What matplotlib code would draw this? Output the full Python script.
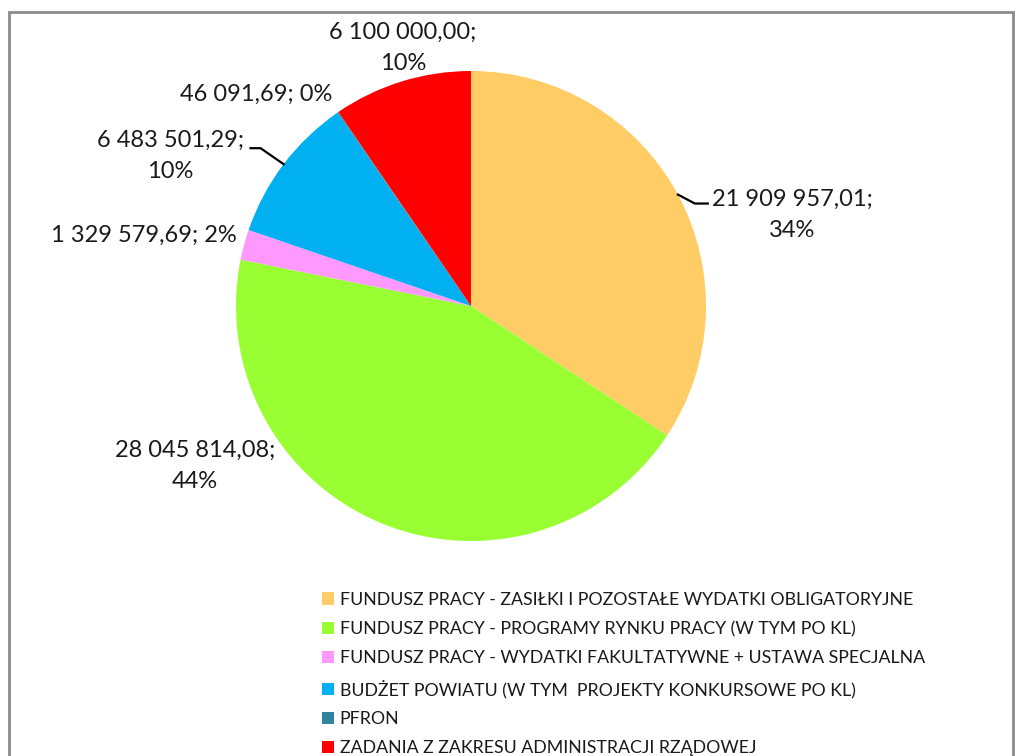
import numpy as np
import matplotlib.pyplot as plt
from matplotlib.patches import Rectangle

plt.rcParams['font.family'] = ['Lato', 'DejaVu Sans']

categories = [
    'FUNDUSZ PRACY - ZASIŁKI I POZOSTAŁE WYDATKI OBLIGATORYJNE',
    'FUNDUSZ PRACY - PROGRAMY RYNKU PRACY (W TYM PO KL)',
    'FUNDUSZ PRACY - WYDATKI FAKULTATYWNE + USTAWA SPECJALNA',
    'BUDŻET POWIATU (W TYM  PROJEKTY KONKURSOWE PO KL)',
    'PFRON',
    'ZADANIA Z ZAKRESU ADMINISTRACJI RZĄDOWEJ',
]
values = [21909957.01, 28045814.08, 1329579.69, 6483501.29, 46091.69, 6100000.00]
colors = ['#FFCC66', '#99FF33', '#FF99FF', '#00B0F0', '#31849B', '#FF0000']

# label text layout: centre position (pie radius units), value and percent on one line or two
label_pos = [(1.366, 0.387), (-1.174, -0.68), (-1.39, 0.30), (-1.28, 0.64), (-0.915, 0.90), (-0.29, 1.10)]
one_line = [False, False, True, False, True, False]
has_leader = [True, False, False, True, False, False]


def fmt_value(v):
    s = f'{v:,.2f}'
    return s.replace(',', ' ').replace('.', ',')


fig = plt.figure(figsize=(10.18, 7.56), dpi=100)
cx, cy, r = 471, 306, 235
ax = fig.add_axes([(cx - r) / 1018, (756 - cy - r) / 756, 2 * r / 1018, 2 * r / 756])
wedges, _ = ax.pie(values, colors=colors, startangle=90, counterclock=False,
                   radius=1, wedgeprops=dict(linewidth=0))
ax.set_xlim(-1, 1)
ax.set_ylim(-1, 1)
ax.set_aspect('equal')
ax.axis('off')

total = sum(values)
for w, v, pos, single, lead in zip(wedges, values, label_pos, one_line, has_leader):
    pct = f'{round(100 * v / total):.0f}%'
    sep = ' ' if single else '\n'
    txt = f'{fmt_value(v)};{sep}{pct}'
    ax.text(pos[0], pos[1], txt, ha='center', va='center', fontsize=17,
            color='#1a1a1a', linespacing=1.6, clip_on=False)
    if lead:
        mid = np.deg2rad((w.theta1 + w.theta2) / 2)
        ex, ey = np.cos(mid), np.sin(mid)
        if pos[0] > 0:
            xs = [ex, ex + 0.072, ex + 0.127]
            ys = [ey, ey - 0.038, ey - 0.038]
        else:
            xs = [ex, ex - 0.098, ex - 0.141]
            ys = [ey, ey + 0.068, ey + 0.068]
        ax.plot(xs, ys, color='black', lw=1.6, clip_on=False)

handles = [Rectangle((0, 0), 1, 1, facecolor=c, edgecolor='none') for c in colors]
fig.legend(handles, categories, loc='upper left', bbox_to_anchor=(313 / 1018, 1 - 583 / 756),
           frameon=False, fontsize=12.8, handlelength=0.7, handleheight=0.7,
           handletextpad=0.3, labelspacing=0.74, borderpad=0, labelcolor='#1a1a1a')

# chart area border
fig.add_artist(Rectangle((9 / 1018, -0.1), 1004 / 1018, 1.1 - 12 / 756, transform=fig.transFigure,
                         fill=False, edgecolor='#8c8c8c', lw=2, clip_on=False))

fig.savefig('out.png', dpi=100)
